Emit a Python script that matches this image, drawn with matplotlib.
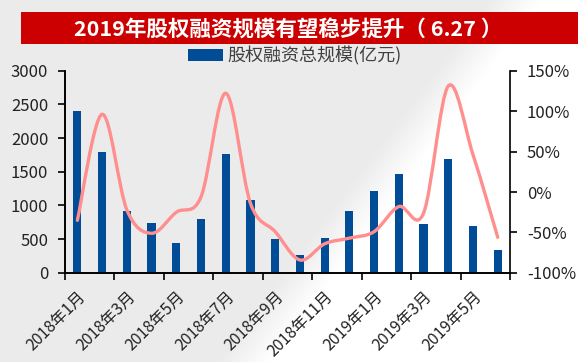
import numpy as np
import matplotlib.pyplot as plt
from matplotlib.path import Path
from matplotlib.patches import PathPatch, Rectangle
from matplotlib.transforms import ScaledTranslation

plt.rcParams['font.family'] = ['Noto Sans CJK SC', 'DejaVu Sans']

title = "2019年股权融资规模有望稳步提升（ 6.27 ）"
legend_label = "股权融资总规模(亿元)"
months = ["2018年1月", "2018年2月", "2018年3月", "2018年4月", "2018年5月", "2018年6月",
          "2018年7月", "2018年8月", "2018年9月", "2018年10月", "2018年11月", "2018年12月",
          "2019年1月", "2019年2月", "2019年3月", "2019年4月", "2019年5月", "2019年6月"]
# equity financing total (100m yuan), left axis
scale = [2400, 1800, 925, 740, 445, 800, 1770, 1075, 500, 270,
         520, 925, 1220, 1465, 725, 1690, 690, 345]
# growth rate (%), right axis
growth = [-35, 96, -22, -51, -25, -6, 122, -14, -49, -84,
          -64, -57, -49, -18, -26, 131, 46, -56]


def smooth_path(x, y):
    """Bezier path through the points, like Excel's smoothed line"""
    pts = np.column_stack([x, y]).astype(float)
    n = len(pts)
    verts = [pts[0]]
    codes = [Path.MOVETO]
    for i in range(n - 1):
        p0 = pts[max(i - 1, 0)]
        p1 = pts[i]
        p2 = pts[i + 1]
        p3 = pts[min(i + 2, n - 1)]
        verts += [p1 + (p2 - p0) / 6, p2 - (p3 - p1) / 6, p2]
        codes += [Path.CURVE4] * 3
    return Path(verts, codes)


def add_background(fig):
    # light grey sheen with a white diagonal band, as in the screenshot
    w, h = 583, 362
    xx, yy = np.meshgrid(np.arange(w), np.arange(h))
    d = xx + 0.75 * yy - 510
    t = np.clip((d + 20) / 50, 0, 1)
    shade = 0.925 + 0.075 * t
    bg = fig.add_axes([0, 0, 1, 1], zorder=-10)
    bg.imshow(np.dstack([shade] * 3), aspect="auto", interpolation="bilinear")
    bg.set_axis_off()


def main():
    fig = plt.figure(figsize=(5.83, 3.62), dpi=100, facecolor="white")
    add_background(fig)
    ax = fig.add_axes([0.1115, 0.246, 0.7635, 0.559])
    ax.patch.set_alpha(0)

    x = np.arange(len(months))
    bars = ax.bar(x, scale, width=0.33, color="#004c97", label=legend_label)
    ax.set_xlim(-0.5, len(months) - 0.5)
    ax.set_ylim(0, 3000)
    ax.set_yticks(range(0, 3001, 500))

    ax2 = ax.twinx()
    ax2.set_ylim(-100, 150)
    ax2.set_yticks(range(-100, 151, 50))
    ax2.set_yticklabels([f"{v}%" for v in range(-100, 151, 50)])
    ax2.add_patch(PathPatch(smooth_path(x, growth), facecolor="none",
                            edgecolor="#ff8f8f", lw=2.4, capstyle="round"))

    # boundary ticks every two months, labels on odd months
    ax.set_xticks(np.arange(-0.5, len(months), 2))
    ax.set_xticklabels([])
    ax.set_xticks(x[::2], minor=True)
    ax.set_xticklabels(months[::2], minor=True, rotation=45, ha="right",
                       rotation_mode="anchor", fontsize=11.5, color="#222222")
    shift = ScaledTranslation(0.09, 0, fig.dpi_scale_trans)
    for lab in ax.get_xticklabels(minor=True):
        lab.set_transform(lab.get_transform() + shift)
    ax.tick_params(axis="x", which="minor", length=0, pad=11)
    ax.tick_params(axis="x", which="major", length=5, width=1.2, direction="out")
    ax.tick_params(axis="y", length=5, width=1.2, pad=7, labelsize=12, labelcolor="#222222")
    ax2.tick_params(axis="y", length=5, width=1.2, pad=7, labelsize=12, labelcolor="#222222")

    for a in (ax, ax2):
        a.spines["top"].set_visible(False)
        for s in ("left", "right", "bottom"):
            a.spines[s].set_linewidth(1.2)
    ax.spines["right"].set_visible(False)

    # title banner
    fig.patches.append(Rectangle((21 / 583, 1 - 44 / 362), 557 / 583, 32 / 362,
                                 transform=fig.transFigure, facecolor="#cc0000",
                                 edgecolor="none"))
    fig.text(288 / 583, 1 - 30 / 362, title, ha="center", va="center",
             fontsize=15.5, fontweight="bold", color="white")

    fig.legend(handles=[bars], loc="center", bbox_to_anchor=(295 / 583, 1 - 56 / 362),
               frameon=False, fontsize=13, handlelength=1.9, handleheight=0.65,
               handletextpad=0.25, labelcolor="#404040")

    fig.savefig("out.png", dpi=100)


if __name__ == '__main__':
    main()
